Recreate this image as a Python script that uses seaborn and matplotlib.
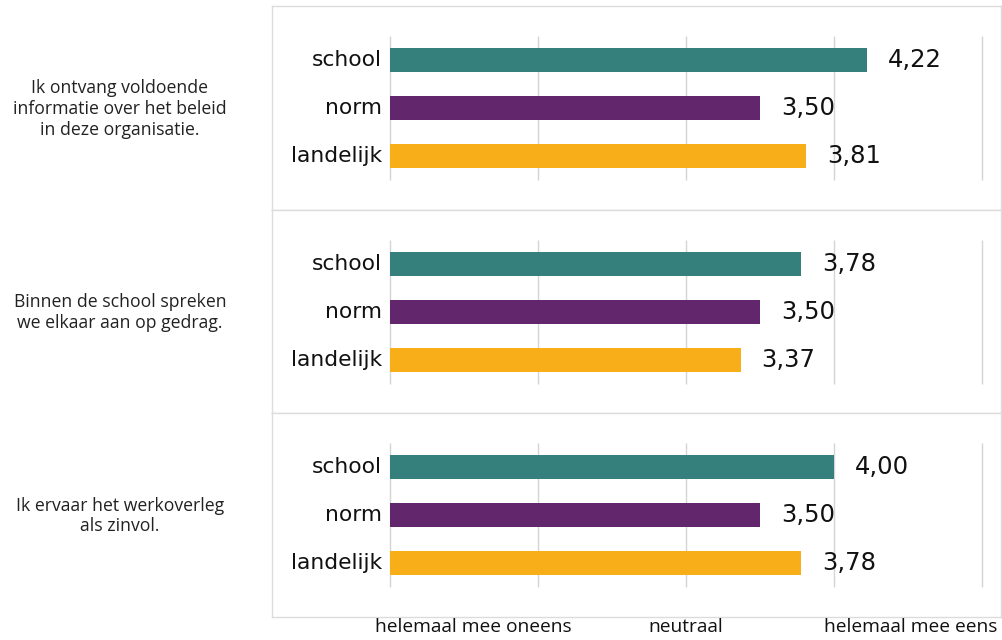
import matplotlib
matplotlib.use("Agg")
import matplotlib.pyplot as plt
import seaborn as sns
import pandas as pd

questions = [
    "Ik ontvang voldoende\ninformatie over het beleid\nin deze organisatie.",
    "Binnen de school spreken\nwe elkaar aan op gedrag.",
    "Ik ervaar het werkoverleg\nals zinvol.",
]
groups = ["school", "norm", "landelijk"]
school = [4.22, 3.78, 4.00]
norm = [3.50, 3.50, 3.50]
landelijk = [3.81, 3.37, 3.78]
scale_min = 1
tick_values = [1, 3, 5]
tick_labels = ["helemaal mee oneens", "neutraal", "helemaal mee eens"]
colors = ["#35807C", "#62266C", "#F8AE19"]

sns.set_theme(style="white")
plt.rcParams["font.family"] = ["DejaVu Sans"]

W, H = 1003, 640
fig = plt.figure(figsize=(W / 100, H / 100), dpi=100)

panel_px = [(6, 210), (210, 413), (413, 617)]
left_px, right_px = 272.5, 1001
xlim = (1 - (390 - left_px) / 148, 5 + (right_px - 982) / 148)

for i, (top, bot) in enumerate(panel_px):
    ax = fig.add_axes([left_px / W, 1 - bot / H, (right_px - left_px) / W, (bot - top) / H])
    vals = [school[i], norm[i], landelijk[i]]
    df = pd.DataFrame({"groep": groups, "waarde": vals})
    sns.barplot(data=df, x="waarde", y="groep", hue="groep", palette=colors,
                orient="h", width=0.5, legend=False, ax=ax, saturation=1,
                linewidth=0, zorder=3)
    # bars start at the scale minimum (1) instead of 0
    for p in ax.patches:
        w = p.get_width()
        p.set_x(scale_min)
        p.set_width(w - scale_min)
    ax.set_xlim(*xlim)
    h = bot - top
    ax.set_ylim(2 + (h - 150) / 48, -54 / 48)
    for gx in [1, 2, 3, 4, 5]:
        ax.vlines(gx, -0.5, 2.5, color="#d4d4d4", lw=1, zorder=1)
    ax.set_xticks([])
    ax.set_yticks([])
    ax.set_xlabel("")
    ax.set_ylabel("")
    for s in ax.spines.values():
        s.set_color("#dcdcdc")
        s.set_linewidth(1)
    for j, (g, v) in enumerate(zip(groups, vals)):
        ax.annotate(g, xy=(1, j), xytext=(-6, 0), textcoords="offset points",
                    ha="right", va="center", fontsize=15.7, color="#111111")
        ax.annotate(f"{v:.2f}".replace(".", ","), xy=(v, j), xytext=(15, 0),
                    textcoords="offset points", ha="left", va="center",
                    fontsize=17.5, color="#111111")
    fig.text(120 / W, 1 - ((top + bot) / 2 + 1) / H, questions[i], ha="center",
             va="center", fontsize=12.7, family=["Open Sans", "DejaVu Sans"],
             color="#222222", linespacing=1.2)
    if i == 2:
        offsets = [-11, 0, 11]
        has = ["left", "center", "right"]
        for tv, tl, dx, ha in zip(tick_values, tick_labels, offsets, has):
            ax.annotate(tl, xy=(tv, 0), xycoords=("data", "axes fraction"),
                        xytext=(dx, -1), textcoords="offset points", ha=ha,
                        va="top", fontsize=13.8,
                        family=["Open Sans", "DejaVu Sans"], color="#111111")

fig.savefig("out.png", dpi=100)
